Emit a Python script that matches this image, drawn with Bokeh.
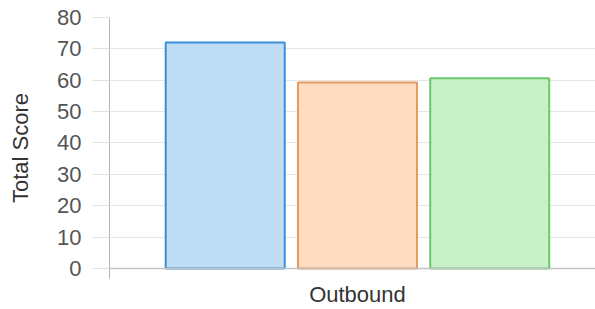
from bokeh.plotting import figure
from bokeh.models import Range1d, FixedTicker, ColumnDataSource, Span
from bokeh.embed import file_html
from bokeh.resources import INLINE

# ---- data ----
categories = ["Outbound"]
series_names = ["Series 1", "Series 2", "Series 3"]
series_values = [72, 59.3, 60.6]
y_ticks = [0, 10, 20, 30, 40, 50, 60, 70, 80]
y_title = "Total Score"

# ---- styles ----
fill_colors = ["#c0ddf6", "#fddcc2", "#c8f1c8"]
line_colors = ["#3a8fd6", "#e39b5f", "#6cc76c"]
FONT = "Liberation Sans"
FS = "22px"

cat_pct, bar_pct = 0.8, 0.9
n = len(series_values)
slot = cat_pct / n

p = figure(width=595, height=309, output_backend="svg", toolbar_location=None,
           x_range=Range1d(0, 0.98), y_range=Range1d(-3.2, 80),
           min_border_left=109, min_border_right=0, min_border_top=17,
           min_border_bottom=26)
p.outline_line_color = None
p.background_fill_color = "white"
p.border_fill_color = "white"

cat_centers = []
for ci, cat in enumerate(categories):
    c = ci + 0.5
    cat_centers.append(c)
    xs = [c + (i - (n - 1) / 2) * slot for i in range(n)]
    src = ColumnDataSource(dict(x=xs, top=series_values, fill=fill_colors,
                                line=line_colors, name=series_names))
    p.vbar(x="x", top="top", bottom=0, width=slot * bar_pct, source=src,
           fill_color="fill", line_color="line", line_width=2)

# zero line
p.add_layout(Span(location=0, dimension="width", line_color="#c2c2c2", line_width=1.5))

# y axis
yax = p.yaxis[0]
yax.ticker = FixedTicker(ticks=y_ticks)
yax.axis_label = y_title
yax.axis_label_text_font = FONT
yax.axis_label_text_font_size = FS
yax.axis_label_text_font_style = "normal"
yax.axis_label_text_color = "#333333"
yax.axis_label_standoff = 21
yax.major_label_text_font = FONT
yax.major_label_text_font_size = FS
yax.major_label_text_color = "#555555"
yax.major_label_standoff = 11
yax.major_tick_out = 17
yax.major_tick_in = 0
yax.major_tick_line_color = "#e3e3e3"
yax.minor_tick_line_color = None
yax.axis_line_color = "#b5b5b5"

# x axis: only the category label
xax = p.xaxis[0]
xax.ticker = FixedTicker(ticks=cat_centers, minor_ticks=[])
xax.major_label_overrides = {c: cat for c, cat in zip(cat_centers, categories)}
xax.major_label_text_font = FONT
xax.major_label_text_font_size = FS
xax.major_label_text_color = "#333333"
xax.major_label_standoff = 3
xax.major_tick_out = 0
xax.major_tick_in = 0
xax.major_tick_line_color = None
xax.minor_tick_line_color = None
xax.axis_line_color = None

p.xgrid.grid_line_color = None
p.ygrid.grid_line_color = "#e6e6e6"
p.ygrid.ticker = FixedTicker(ticks=y_ticks)

open("out.html", "w").write(file_html(p, INLINE))
